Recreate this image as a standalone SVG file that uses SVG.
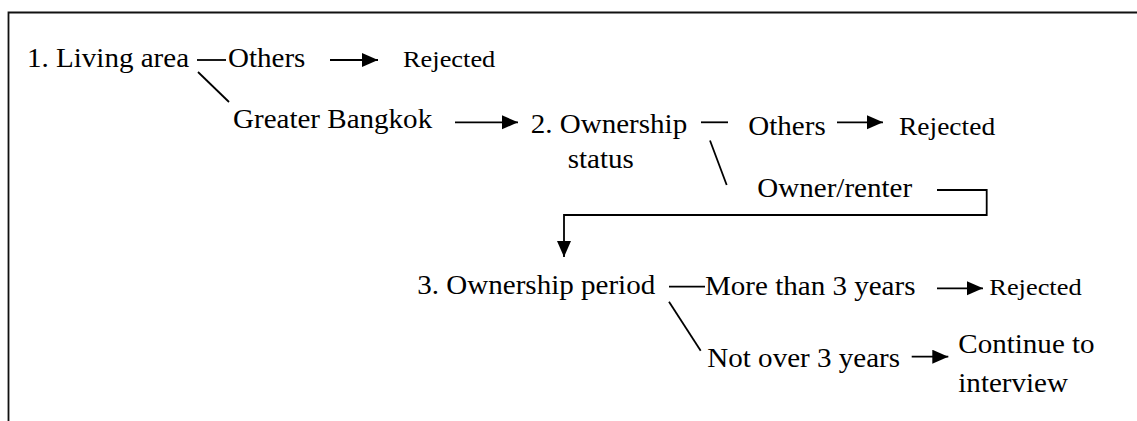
<svg xmlns="http://www.w3.org/2000/svg" width="1137" height="421" viewBox="0 0 1137 421" font-family="Liberation Serif, serif">
<style>
text{font-size:26.4px;fill:#000}
text.s{font-size:24px}
text.m{font-size:25px}
.c line,.c polyline{stroke:#000;stroke-width:1.8;fill:none}
.frame{stroke:#111;stroke-width:1.8;fill:none}
</style>
<defs>
<marker id="ah" markerUnits="userSpaceOnUse" markerWidth="17" markerHeight="15" refX="16" refY="7" orient="auto">
<path d="M0,0 L16,7 L0,14 Z" fill="#000"/>
</marker>
</defs>
<rect width="1137" height="421" fill="#fff"/>
<polyline class="frame" points="8.5,421 8.5,12.5 1137,12.5"/>
<g class="c" id="connectors">
<line x1="197" y1="60" x2="226" y2="60"/>
<line x1="198" y1="72" x2="229" y2="102"/>
<line x1="330" y1="60" x2="378" y2="60" marker-end="url(#ah)"/>
<line x1="455" y1="122.3" x2="518" y2="122.3" marker-end="url(#ah)"/>
<line x1="701" y1="122.3" x2="728" y2="122.3"/>
<line x1="710" y1="140.5" x2="726.7" y2="185"/>
<line x1="837" y1="122.3" x2="883" y2="122.3" marker-end="url(#ah)"/>
<polyline points="937,190 986.7,190 986.7,215 564,215 564,257" marker-end="url(#ah)"/>
<line x1="669" y1="286.7" x2="705" y2="286.7"/>
<line x1="669" y1="301.7" x2="700.7" y2="350.7"/>
<line x1="937" y1="288.3" x2="983" y2="288.3" marker-end="url(#ah)"/>
<line x1="911.7" y1="356.7" x2="948.3" y2="356.7" marker-end="url(#ah)"/>
</g>
<g id="n-living" transform="translate(27,66.7) scale(1.1,1)"><text>1. Living area</text></g>
<g id="n-others1" transform="translate(228,66.7) scale(1.1,1)"><text>Others</text></g>
<g id="n-rejected1" transform="translate(403,66.7) scale(1.1,1)"><text class="s">Rejected</text></g>
<g id="n-bangkok" transform="translate(233,128) scale(1.1,1)"><text>Greater Bangkok</text></g>
<g id="n-ownership" transform="translate(530.7,133.3) scale(1.1,1)"><text>2. Ownership</text><text x="33.6" y="35">status</text></g>
<g id="n-others2" transform="translate(748.3,135) scale(1.1,1)"><text>Others</text></g>
<g id="n-rejected2" transform="translate(899,135) scale(1.1,1)"><text class="m">Rejected</text></g>
<g id="n-owner" transform="translate(757.3,196.7) scale(1.1,1)"><text>Owner/renter</text></g>
<g id="n-period" transform="translate(417.3,294) scale(1.1,1)"><text>3. Ownership period</text></g>
<g id="n-more" transform="translate(705,295) scale(1.1,1)"><text>More than 3 years</text></g>
<g id="n-rejected3" transform="translate(989.3,295) scale(1.1,1)"><text class="s">Rejected</text></g>
<g id="n-notover" transform="translate(707.3,366.7) scale(1.1,1)"><text>Not over 3 years</text></g>
<g id="n-continue" transform="translate(958.3,353.3) scale(1.1,1)"><text>Continue to</text><text y="38.4">interview</text></g>
</svg>
